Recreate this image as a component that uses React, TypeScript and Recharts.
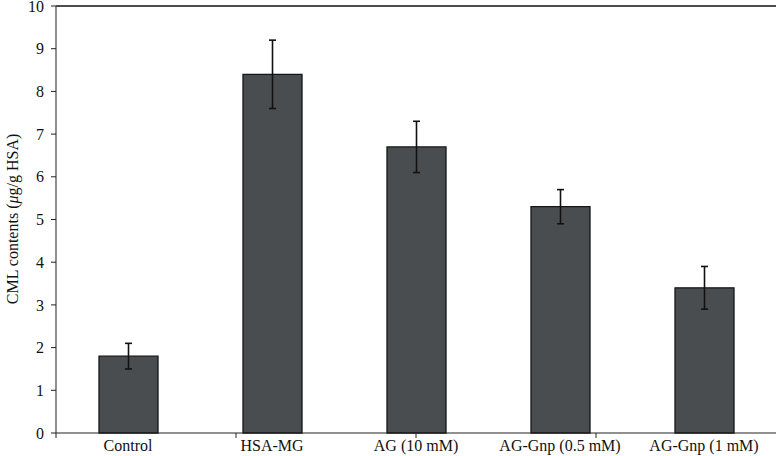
import React from "react";
import { BarChart, Bar, XAxis, YAxis, ErrorBar, ReferenceLine } from "recharts";

const categories = ["Control", "HSA-MG", "AG (10 mM)", "AG-Gnp (0.5 mM)", "AG-Gnp (1 mM)"];
const cmlValues = [1.8, 8.4, 6.7, 5.3, 3.4];
const cmlErrors = [0.3, 0.8, 0.6, 0.4, 0.5];
const yTicks = [0, 1, 2, 3, 4, 5, 6, 7, 8, 9, 10];
const boundaryTicks = [0, 1, 2, 3, 4, 5];

const data = categories.map((name, i) => ({ name, value: cmlValues[i], err: cmlErrors[i] }));

const FONT = "'Liberation Serif', 'Times New Roman', serif";

const YLabel = () => (
  <text
    x={12}
    y={219}
    transform="rotate(-90 12 219)"
    textAnchor="middle"
    dominantBaseline="central"
    fontFamily={FONT}
    fontSize={16}
    fill="#111"
  >
    CML contents (<tspan fontStyle="italic">μ</tspan>g/g HSA)
  </text>
);

const EmptyTick = () => <g />;

export default function App() {
  return (
    <div style={{ position: "absolute", left: 0, top: 0, background: "#fff" }}>
      <BarChart
        width={778}
        height={456}
        data={data}
        margin={{ top: 6, right: 2, left: 0, bottom: 0 }}
      >
        <XAxis
          xAxisId="aNum"
          type="number"
          domain={[0, 5]}
          ticks={boundaryTicks}
          allowDataOverflow
          height={1}
          tick={EmptyTick}
          tickSize={5}
          tickLine={{ stroke: "#222" }}
          axisLine={{ stroke: "#222", strokeWidth: 1.2 }}
        />
        <XAxis
          xAxisId="bCat"
          dataKey="name"
          type="category"
          height={22}
          axisLine={false}
          tickLine={false}
          tickSize={4}
          tickMargin={2}
          interval={0}
          tick={{ fontFamily: FONT, fontSize: 16, fill: "#111" }}
        />
        <YAxis
          type="number"
          domain={[0, 10]}
          ticks={yTicks}
          width={56}
          tickSize={5}
          tickMargin={7}
          interval={0}
          axisLine={{ stroke: "#444", strokeWidth: 1.2 }}
          tickLine={{ stroke: "#222" }}
          tick={{ fontFamily: FONT, fontSize: 16, fill: "#111" }}
          label={<YLabel />}
        />
        <ReferenceLine xAxisId="bCat" y={10} stroke="#111" strokeWidth={1.5} ifOverflow="visible" />
        <ReferenceLine xAxisId="aNum" x={5} stroke="#999" strokeWidth={1.2} ifOverflow="visible" />
        <Bar
          xAxisId="bCat"
          dataKey="value"
          fill="#4a4d50"
          stroke="#151515"
          strokeWidth={1.3}
          barSize={59}
          isAnimationActive={false}
        >
          <ErrorBar dataKey="err" width={3.5} stroke="#111" strokeWidth={1.6} direction="y" />
        </Bar>
      </BarChart>
    </div>
  );
}
